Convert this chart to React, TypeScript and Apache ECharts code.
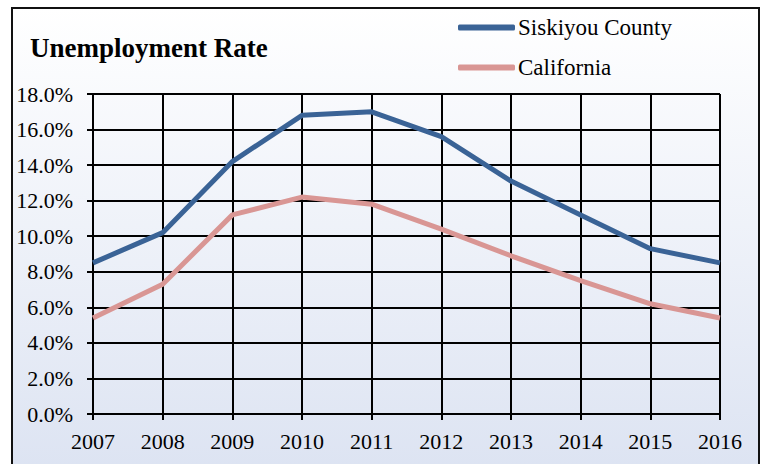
import React, { useEffect, useRef } from "react";
import * as echarts from "echarts";

const years = ["2007", "2008", "2009", "2010", "2011", "2012", "2013", "2014", "2015", "2016"];
const siskiyou = [8.5, 10.2, 14.2, 16.8, 17.0, 15.6, 13.1, 11.2, 9.3, 8.5];
const california = [5.4, 7.3, 11.2, 12.2, 11.8, 10.4, 8.9, 7.5, 6.2, 5.4];
const seriesNames = ["Siskiyou County", "California"];
const titleText = "Unemployment Rate";

const FONT = "Liberation Serif";

export default function App() {
  const ref = useRef<HTMLDivElement>(null);
  useEffect(() => {
    document.body.style.margin = "0";
    const chart = echarts.init(ref.current!, undefined, { renderer: "svg" });
    chart.setOption({
      animation: false,
      graphic: [
        {
          type: "rect",
          z: -10,
          silent: true,
          shape: { x: 12, y: 8, width: 747, height: 470 },
          style: {
            fill: new echarts.graphic.LinearGradient(0, 0, 0, 1, [
              { offset: 0, color: "#ffffff" },
              { offset: 1, color: "#dce3f2" },
            ]),
            stroke: "#111111",
            lineWidth: 2,
          },
        },
      ],
      title: {
        text: titleText,
        left: 25,
        top: 29,
        textStyle: { fontFamily: FONT, fontSize: 27, fontWeight: "bold", color: "#000" },
      },
      legend: {
        orient: "vertical",
        left: 453,
        top: 11,
        itemWidth: 57,
        itemHeight: 6,
        itemGap: 17,
        data: seriesNames.map((n) => ({ name: n, icon: "roundRect" })),
        textStyle: { fontFamily: FONT, fontSize: 23, color: "#000", padding: [0, 0, 0, -2] },
      },
      grid: { left: 93, right: 44, top: 94, bottom: 50 },
      xAxis: {
        type: "category",
        data: years,
        boundaryGap: false,
        axisLine: { show: true, lineStyle: { color: "#000", width: 2 } },
        axisTick: { show: true, length: 6, inside: false, lineStyle: { color: "#000", width: 2 } },
        axisLabel: { fontFamily: FONT, fontSize: 22, color: "#000", margin: 16 },
        splitLine: { show: true, lineStyle: { color: "#000", width: 2 } },
      },
      yAxis: {
        type: "value",
        min: 0,
        max: 18,
        interval: 2,
        axisLine: { show: true, lineStyle: { color: "#000", width: 2 } },
        axisTick: { show: true, length: 6, lineStyle: { color: "#000", width: 2 } },
        axisLabel: {
          fontFamily: FONT,
          fontSize: 22,
          color: "#000",
          margin: 20,
          formatter: (v: number) => v.toFixed(1) + "%",
        },
        splitLine: { show: true, lineStyle: { color: "#000", width: 2 } },
      },
      series: [
        {
          name: seriesNames[0],
          type: "line",
          data: siskiyou,
          showSymbol: false,
          symbol: "none",
          lineStyle: { color: "#3a6396", width: 5 },
          itemStyle: { color: "#3a6396" },
        },
        {
          name: seriesNames[1],
          type: "line",
          data: california,
          showSymbol: false,
          symbol: "none",
          lineStyle: { color: "#d99694", width: 5 },
          itemStyle: { color: "#d99694" },
        },
      ],
    });
    return () => chart.dispose();
  }, []);
  return <div ref={ref} style={{ width: 764, height: 464 }} />;
}
